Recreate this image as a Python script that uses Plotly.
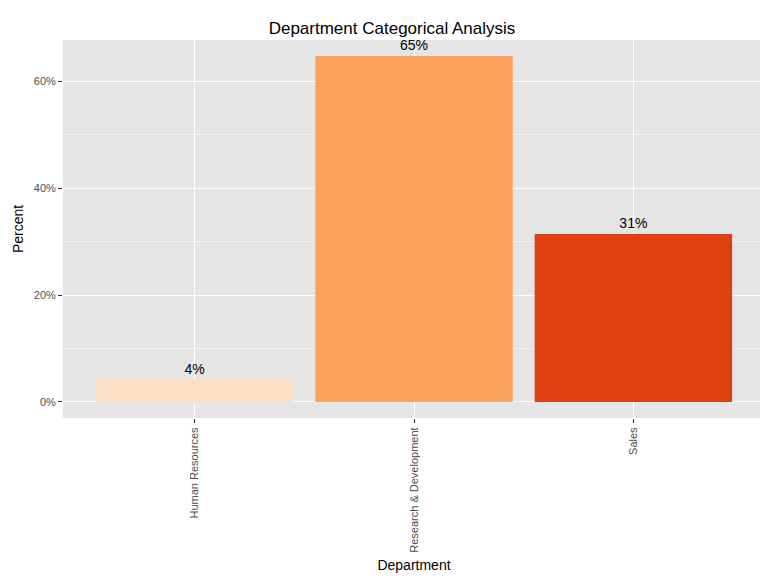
import plotly.graph_objects as go

departments = ["Human Resources", "Research & Development", "Sales"]
percents = [4.1, 64.7, 31.4]
labels = ["4%", "65%", "31%"]
colors = ["#FDDFC4", "#FBA25F", "#DE4011"]

fig = go.Figure()
fig.add_trace(go.Bar(
    x=departments, y=percents, width=0.9,
    marker=dict(color=colors, line=dict(width=0)),
    text=labels, textposition="outside",
    textfont=dict(size=14, color="black"), cliponaxis=False,
    showlegend=False
))

fig.update_layout(
    width=768, height=576,
    font=dict(family="Liberation Sans, Arial", color="#4D4D4D"),
    title=dict(text="Department Categorical Analysis", x=0.5, y=0.975,
               xanchor="center", font=dict(size=17, color="black")),
    paper_bgcolor="white", plot_bgcolor="#E5E5E5",
    margin=dict(l=55, r=11, t=32, b=166, autoexpand=False),
    bargap=0.1,
    xaxis=dict(title=dict(text="Department", font=dict(size=14, color="black"), standoff=8),
               tickangle=-90, tickfont=dict(size=11), range=[-0.6, 2.6], automargin=False,
               showgrid=True, gridcolor="white", gridwidth=1.3,
               ticks="outside", ticklen=4, tickcolor="#333333", zeroline=False),
    yaxis=dict(title=dict(text="Percent", font=dict(size=14, color="black"), standoff=6),
               range=[-3.0, 67.7], tickvals=[0, 20, 40, 60], automargin=False,
               ticktext=["0%", "20%", "40%", "60%"], tickfont=dict(size=11),
               showgrid=True, gridcolor="white", gridwidth=1.3,
               minor=dict(tickvals=[10, 30, 50], showgrid=True, gridcolor="#F2F2F2", gridwidth=0.6),
               ticks="outside", ticklen=4, tickcolor="#333333", zeroline=False),
)

fig.write_html("out.html")
